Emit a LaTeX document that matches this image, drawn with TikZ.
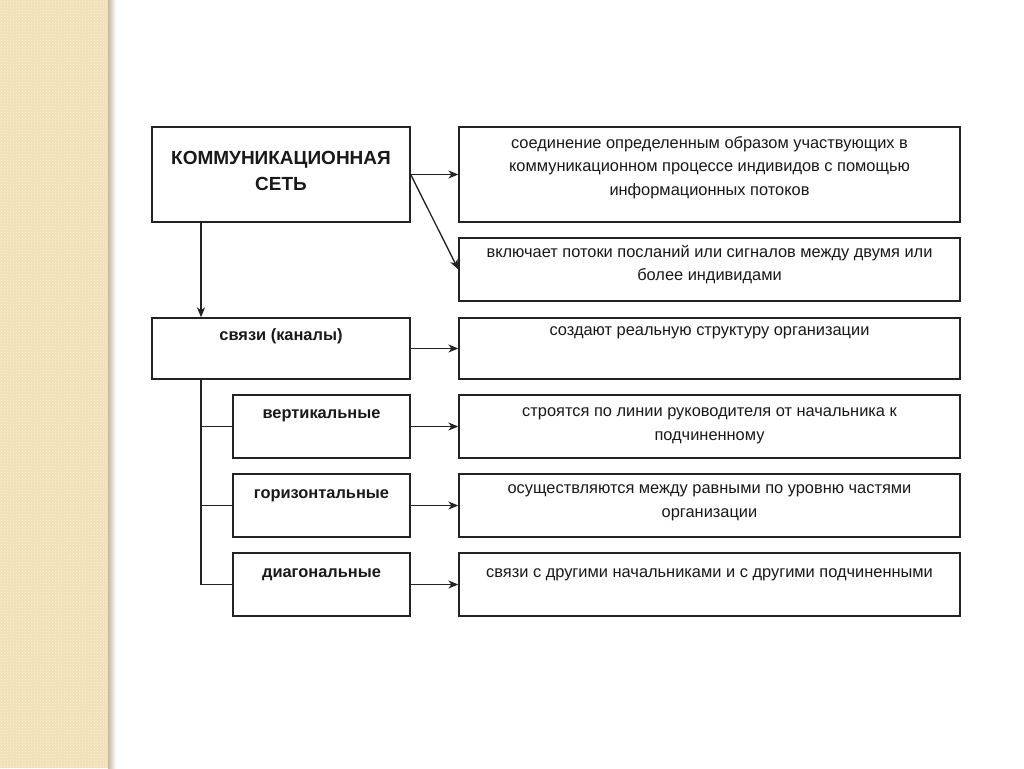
\documentclass[tikz,border=0pt]{standalone}
\usepackage{fontspec}
\setmainfont{Liberation Sans}
\usetikzlibrary{arrows.meta,patterns}
\definecolor{beige}{RGB}{241,224,183}
\definecolor{beigedot}{RGB}{252,243,220}
\definecolor{linec}{RGB}{35,35,35}
\definecolor{txtc}{RGB}{25,25,25}
\newcommand{\bxt}[4]{\parbox[c][#2pt][t]{#1pt}{\centering\vspace*{#3pt}#4\par}}
\tikzset{
  box/.style={draw=linec, line width=1.3pt, inner sep=0pt, text=txtc, fill=white},
  arr/.style={draw=linec, line width=1.3pt, -{Stealth[length=10pt,width=8pt,inset=3pt]}},
  ln/.style={draw=linec, line width=1.3pt},
}
\begin{document}
\begin{tikzpicture}[x=1pt,y=-1pt]
\useasboundingbox (0,0) rectangle (1024,768);
\fill[white] (0,0) rectangle (1024,768);
% decorative strip
\fill[beige] (0,0) rectangle (110,768);
\fill[pattern=crosshatch dots, pattern color=beigedot] (0,0) rectangle (110,768);
\shade[left color=beige!60!gray, right color=white] (108,0) rectangle (116,768);
\fontsize{16.4}{23.5}\selectfont
\coordinate (tx) at (201,0);
% boxes
\node[box] (ks) at (281,174.5) {\bxt{258}{95}{24}{\fontsize{19}{26}\selectfont\bfseries КОММУНИКАЦИОННАЯ\\ СЕТЬ}};
\node[box] (d1) at (709.5,174.5) {\bxt{501}{95}{9}{соединение определенным образом участвующих в\\ коммуникационном процессе индивидов с помощью\\ информационных потоков}};
\node[box] (d2) at (709.5,269.5) {\bxt{501}{63}{7}{включает потоки посланий или сигналов между двумя или\\ более индивидами}};
\node[box] (links) at (281,348.5) {\bxt{258}{61}{11}{\bfseries связи (каналы)}};
\node[box] (d3) at (709.5,348.5) {\bxt{501}{61}{9}{создают реальную структуру организации}};
\node[box] (vert) at (321.5,426.5) {\bxt{177}{63}{15}{\bfseries вертикальные}};
\node[box] (d4) at (709.5,426.5) {\bxt{501}{63}{13}{строятся по линии руководителя от начальника к\\ подчиненному}};
\node[box] (hor) at (321.5,505.5) {\bxt{177}{63}{16}{\bfseries горизонтальные}};
\node[box] (d5) at (709.5,505.5) {\bxt{501}{63}{11}{осуществляются между равными по уровню частями\\ организации}};
\node[box] (diag) at (321.5,584.5) {\bxt{177}{63}{16}{\bfseries диагональные}};
\node[box] (d6) at (709.5,584.5) {\bxt{501}{63}{16}{связи с другими начальниками и с другими подчиненными}};
% connectors
\draw[arr] (ks.east) -- (d1.west);
\draw[arr] (ks.east) -- (d2.west);
\draw[arr] (ks.south -| tx) -- (links.north -| tx);
\draw[arr] (links.east) -- (d3.west);
\draw[ln] (links.south -| tx) |- (diag.west);
\draw[ln] (tx |- vert.west) -- (vert.west);
\draw[ln] (tx |- hor.west) -- (hor.west);
\draw[arr] (vert.east) -- (d4.west);
\draw[arr] (hor.east) -- (d5.west);
\draw[arr] (diag.east) -- (d6.west);
\end{tikzpicture}
\end{document}
